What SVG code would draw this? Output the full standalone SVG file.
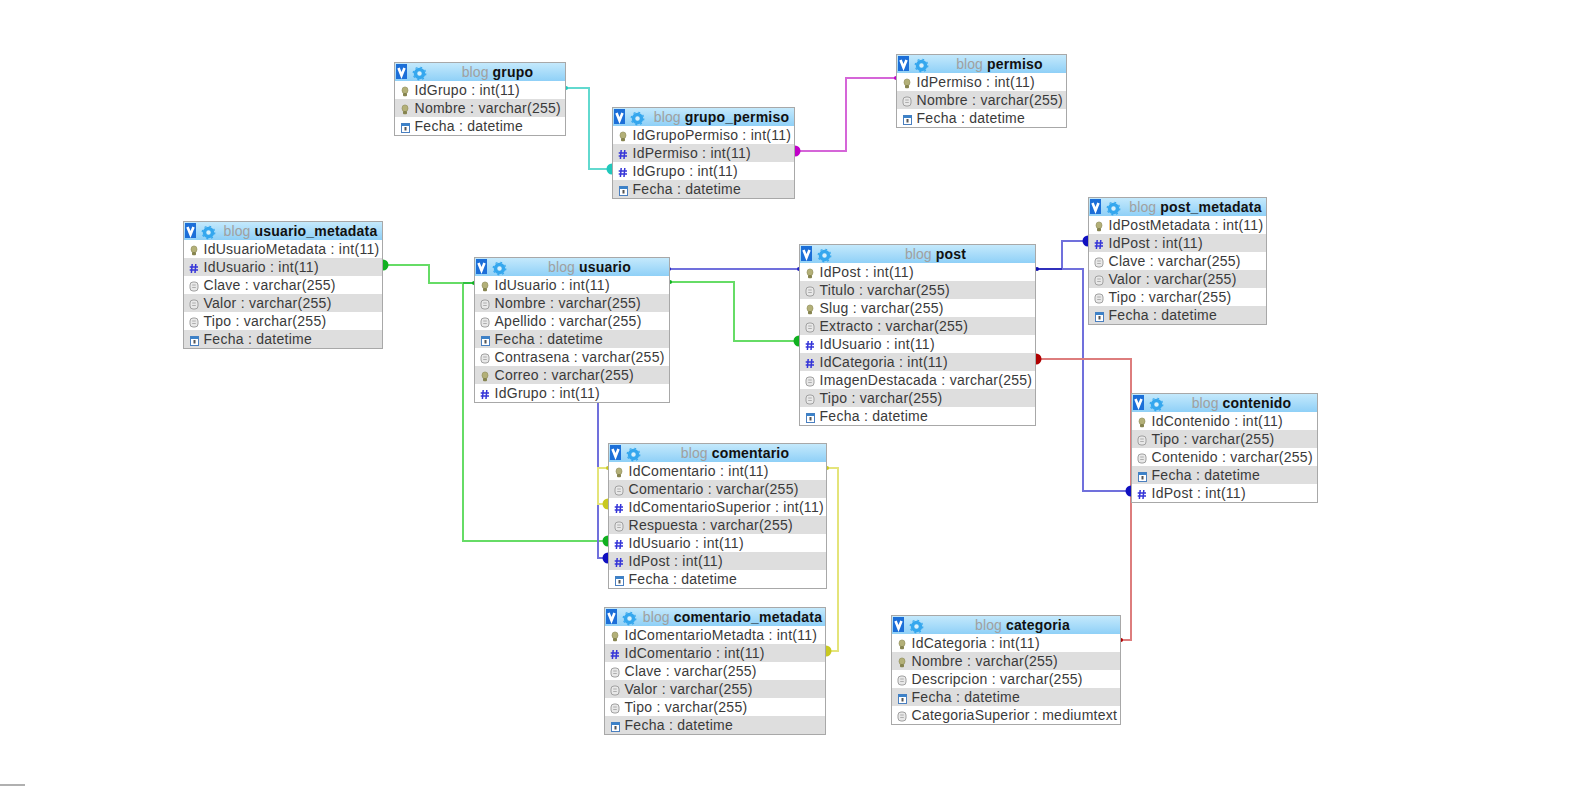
<svg xmlns="http://www.w3.org/2000/svg" width="1579" height="786" viewBox="0 0 1579 786">
<style>
.bd{fill:#fff;stroke:#a8a8a8;stroke-width:1}
.hd{fill:url(#hg)}
.sh{fill:#dedede}
text{font-family:"Liberation Sans",Arial,sans-serif;font-size:14px;fill:#3a3a3a;letter-spacing:.27px;transform:translate(-.5px,-1px)}
.t{text-anchor:middle;fill:#a0a0a0;letter-spacing:.1px;transform:translate(-.5px,0)}
.t tspan{font-weight:bold;fill:#111;letter-spacing:.2px}
.c{fill:none;stroke-width:2}
.cy{stroke:#62d9cf}.mg{stroke:#d565d8}.bl{stroke:#7070dc}.gr{stroke:#66dc66}.ol{stroke:#e4e47a}.rd{stroke:#dd7d7d}.db{stroke:#3030bc}.dg{stroke:#30c040}
</style>
<defs>
<linearGradient id="hg" x1="0" y1="0" x2="0" y2="1"><stop offset="0" stop-color="#c4e9fc"/><stop offset="1" stop-color="#8fd0f7"/></linearGradient>
<g id="k"><ellipse cx="0" cy="-1.200" rx="3" ry="3.400" fill="#b3b078" stroke="#8d8a55" stroke-width=".6"/><rect x="-2" y="1.500" width="4" height="3.200" rx="1" fill="#86844f"/></g>
<path id="h" d="M-1.800-4.500L-2.600 4.500M1.800-4.500L1 4.500M-4.300-1.600H4M-4.300 1.600H4" fill="none" stroke="#3535d8" stroke-width="1.500"/>
<g id="d"><rect x="-4" y="-4.500" width="8" height="9" rx="3" fill="#e8e8e8" stroke="#a0a0a0"/><path d="M-1.800-1.500H1.800M-1.800 1H1.800" stroke="#a0a0a0" stroke-width=".8"/></g>
<g id="f"><rect x="-3.500" y="-4" width="8" height="9" fill="#fff" stroke="#4a7fbf"/><rect x="-3.500" y="-4" width="8" height="2.500" fill="#3b82c9"/><rect x="-.5" y="-.5" width="2" height="3.500" fill="#555"/></g>
<g id="v"><rect x="2" y="2" width="11" height="15" fill="#1c6fd8"/><path d="M4.500 6L7.500 13.500L10.500 6" fill="none" stroke="#fff" stroke-width="2.600"/></g>
<g id="g"><circle cx="25.500" cy="11.500" r="4" fill="#d8f0fc" stroke="#35a7ee" stroke-width="3.500"/><circle cx="25.500" cy="11.500" r="6.300" fill="none" stroke="#35a7ee" stroke-width="1.200" stroke-dasharray="2 2.950"/></g>
<circle id="p" r="2"/>
<circle id="o" r="5.500"/>
</defs>
<rect width="1579" height="786" fill="#fff"/>
<g id="connectors">
<path class="c cy" d="M566 88H589V169H612"/>
<path class="c mg" d="M795 151H846V78H896"/>
<path class="c bl" d="M669 269H799"/>
<path class="c gr" d="M383 265H429V283H474"/>
<path class="c gr" d="M463 283V541H608"/>
<path class="c dg" d="M463 283H474"/>
<path class="c gr" d="M669 282H734V341H799"/>
<path class="c bl" d="M598 403V558H608"/>
<path class="c ol" d="M608 468H598V504H608"/>
<path class="c ol" d="M827 468H838V651H826"/>
<path class="c bl" d="M1036 269H1062V241H1088"/>
<path class="c bl" d="M1036 269H1083V491H1131"/>
<path class="c db" d="M1036 269H1062"/>
<path class="c rd" d="M1036 359H1131V640H1121"/>
<use href="#p" x="566" y="88" fill="#20c8bc"/><use href="#o" x="612" y="169" fill="#20c8bc"/>
<use href="#o" x="795" y="151" fill="#c000c8"/><use href="#p" x="896" y="78" fill="#c000c8"/>
<use href="#p" x="669" y="269" fill="#2020c0"/><use href="#p" x="799" y="269" fill="#2020c0"/>
<use href="#o" x="383" y="265" fill="#10b020"/><use href="#p" x="474" y="283" fill="#10b020"/>
<use href="#o" x="608" y="541" fill="#10b020"/><use href="#p" x="670" y="282" fill="#10b020"/><use href="#o" x="799" y="341" fill="#10b020"/>
<use href="#o" x="608" y="558" fill="#1010c0"/>
<use href="#p" x="608" y="468" fill="#c8c820"/><use href="#o" x="608" y="504" fill="#c8c820"/>
<use href="#p" x="827" y="468" fill="#c8c820"/><use href="#o" x="826" y="651" fill="#c8c820"/>
<use href="#p" x="1037" y="269" fill="#1010b0"/><use href="#o" x="1088" y="241" fill="#1010c0"/><use href="#o" x="1131" y="491" fill="#1010c0"/>
<use href="#o" x="1036" y="359" fill="#b00000"/><use href="#p" x="1121" y="640" fill="#b00000"/>
</g>
<g id="grupo" transform="translate(394,62)">
<rect class="bd" x=".5" y=".5" width="171" height="73"/><rect class="hd" x="1" y="1" width="170" height="18"/><rect class="sh" x="1" y="37" width="170" height="18"/>
<use href="#v"/><use href="#g"/><text class="t" x="104" y="14.500">blog <tspan>grupo</tspan></text>
<use href="#k" x="11" y="29.500"/><text x="21" y="33.500">IdGrupo : int(11)</text>
<use href="#k" x="11" y="47.500"/><text x="21" y="51.500">Nombre : varchar(255)</text>
<use href="#f" x="11" y="65.500"/><text x="21" y="69.500">Fecha : datetime</text>
</g>
<g id="grupo_permiso" transform="translate(612,107)">
<rect class="bd" x=".5" y=".5" width="182" height="91"/><rect class="hd" x="1" y="1" width="181" height="18"/><rect class="sh" x="1" y="37" width="181" height="18"/><rect class="sh" x="1" y="73" width="181" height="18"/>
<use href="#v"/><use href="#g"/><text class="t" x="110" y="14.500">blog <tspan>grupo_permiso</tspan></text>
<use href="#k" x="11" y="29.500"/><text x="21" y="33.500">IdGrupoPermiso : int(11)</text>
<use href="#h" x="11" y="47.500"/><text x="21" y="51.500">IdPermiso : int(11)</text>
<use href="#h" x="11" y="65.500"/><text x="21" y="69.500">IdGrupo : int(11)</text>
<use href="#f" x="11" y="83.500"/><text x="21" y="87.500">Fecha : datetime</text>
</g>
<g id="permiso" transform="translate(896,54)">
<rect class="bd" x=".5" y=".5" width="170" height="73"/><rect class="hd" x="1" y="1" width="169" height="18"/><rect class="sh" x="1" y="37" width="169" height="18"/>
<use href="#v"/><use href="#g"/><text class="t" x="104" y="14.500">blog <tspan>permiso</tspan></text>
<use href="#k" x="11" y="29.500"/><text x="21" y="33.500">IdPermiso : int(11)</text>
<use href="#d" x="11" y="47.500"/><text x="21" y="51.500">Nombre : varchar(255)</text>
<use href="#f" x="11" y="65.500"/><text x="21" y="69.500">Fecha : datetime</text>
</g>
<g id="post_metadata" transform="translate(1088,197)">
<rect class="bd" x=".5" y=".5" width="178" height="127"/><rect class="hd" x="1" y="1" width="177" height="18"/><rect class="sh" x="1" y="37" width="177" height="18"/><rect class="sh" x="1" y="73" width="177" height="18"/><rect class="sh" x="1" y="109" width="177" height="18"/>
<use href="#v"/><use href="#g"/><text class="t" x="108" y="14.500">blog <tspan>post_metadata</tspan></text>
<use href="#k" x="11" y="29.500"/><text x="21" y="33.500">IdPostMetadata : int(11)</text>
<use href="#h" x="11" y="47.500"/><text x="21" y="51.500">IdPost : int(11)</text>
<use href="#d" x="11" y="65.500"/><text x="21" y="69.500">Clave : varchar(255)</text>
<use href="#d" x="11" y="83.500"/><text x="21" y="87.500">Valor : varchar(255)</text>
<use href="#d" x="11" y="101.500"/><text x="21" y="105.500">Tipo : varchar(255)</text>
<use href="#f" x="11" y="119.500"/><text x="21" y="123.500">Fecha : datetime</text>
</g>
<g id="usuario_metadata" transform="translate(183,221)">
<rect class="bd" x=".5" y=".5" width="199" height="127"/><rect class="hd" x="1" y="1" width="198" height="18"/><rect class="sh" x="1" y="37" width="198" height="18"/><rect class="sh" x="1" y="73" width="198" height="18"/><rect class="sh" x="1" y="109" width="198" height="18"/>
<use href="#v"/><use href="#g"/><text class="t" x="118" y="14.500">blog <tspan>usuario_metadata</tspan></text>
<use href="#k" x="11" y="29.500"/><text x="21" y="33.500">IdUsuarioMetadata : int(11)</text>
<use href="#h" x="11" y="47.500"/><text x="21" y="51.500">IdUsuario : int(11)</text>
<use href="#d" x="11" y="65.500"/><text x="21" y="69.500">Clave : varchar(255)</text>
<use href="#d" x="11" y="83.500"/><text x="21" y="87.500">Valor : varchar(255)</text>
<use href="#d" x="11" y="101.500"/><text x="21" y="105.500">Tipo : varchar(255)</text>
<use href="#f" x="11" y="119.500"/><text x="21" y="123.500">Fecha : datetime</text>
</g>
<g id="usuario" transform="translate(474,257)">
<rect class="bd" x=".5" y=".5" width="195" height="145"/><rect class="hd" x="1" y="1" width="194" height="18"/><rect class="sh" x="1" y="37" width="194" height="18"/><rect class="sh" x="1" y="73" width="194" height="18"/><rect class="sh" x="1" y="109" width="194" height="18"/>
<use href="#v"/><use href="#g"/><text class="t" x="116" y="14.500">blog <tspan>usuario</tspan></text>
<use href="#k" x="11" y="29.500"/><text x="21" y="33.500">IdUsuario : int(11)</text>
<use href="#d" x="11" y="47.500"/><text x="21" y="51.500">Nombre : varchar(255)</text>
<use href="#d" x="11" y="65.500"/><text x="21" y="69.500">Apellido : varchar(255)</text>
<use href="#f" x="11" y="83.500"/><text x="21" y="87.500">Fecha : datetime</text>
<use href="#d" x="11" y="101.500"/><text x="21" y="105.500">Contrasena : varchar(255)</text>
<use href="#k" x="11" y="119.500"/><text x="21" y="123.500">Correo : varchar(255)</text>
<use href="#h" x="11" y="137.500"/><text x="21" y="141.500">IdGrupo : int(11)</text>
</g>
<g id="post" transform="translate(799,244)">
<rect class="bd" x=".5" y=".5" width="236" height="181"/><rect class="hd" x="1" y="1" width="235" height="18"/><rect class="sh" x="1" y="37" width="235" height="18"/><rect class="sh" x="1" y="73" width="235" height="18"/><rect class="sh" x="1" y="109" width="235" height="18"/><rect class="sh" x="1" y="145" width="235" height="18"/>
<use href="#v"/><use href="#g"/><text class="t" x="137" y="14.500">blog <tspan>post</tspan></text>
<use href="#k" x="11" y="29.500"/><text x="21" y="33.500">IdPost : int(11)</text>
<use href="#d" x="11" y="47.500"/><text x="21" y="51.500">Titulo : varchar(255)</text>
<use href="#k" x="11" y="65.500"/><text x="21" y="69.500">Slug : varchar(255)</text>
<use href="#d" x="11" y="83.500"/><text x="21" y="87.500">Extracto : varchar(255)</text>
<use href="#h" x="11" y="101.500"/><text x="21" y="105.500">IdUsuario : int(11)</text>
<use href="#h" x="11" y="119.500"/><text x="21" y="123.500">IdCategoria : int(11)</text>
<use href="#d" x="11" y="137.500"/><text x="21" y="141.500">ImagenDestacada : varchar(255)</text>
<use href="#d" x="11" y="155.500"/><text x="21" y="159.500">Tipo : varchar(255)</text>
<use href="#f" x="11" y="173.500"/><text x="21" y="177.500">Fecha : datetime</text>
</g>
<g id="contenido" transform="translate(1131,393)">
<rect class="bd" x=".5" y=".5" width="186" height="109"/><rect class="hd" x="1" y="1" width="185" height="18"/><rect class="sh" x="1" y="37" width="185" height="18"/><rect class="sh" x="1" y="73" width="185" height="18"/>
<use href="#v"/><use href="#g"/><text class="t" x="111" y="14.500">blog <tspan>contenido</tspan></text>
<use href="#k" x="11" y="29.500"/><text x="21" y="33.500">IdContenido : int(11)</text>
<use href="#d" x="11" y="47.500"/><text x="21" y="51.500">Tipo : varchar(255)</text>
<use href="#d" x="11" y="65.500"/><text x="21" y="69.500">Contenido : varchar(255)</text>
<use href="#f" x="11" y="83.500"/><text x="21" y="87.500">Fecha : datetime</text>
<use href="#h" x="11" y="101.500"/><text x="21" y="105.500">IdPost : int(11)</text>
</g>
<g id="comentario" transform="translate(608,443)">
<rect class="bd" x=".5" y=".5" width="218" height="145"/><rect class="hd" x="1" y="1" width="217" height="18"/><rect class="sh" x="1" y="37" width="217" height="18"/><rect class="sh" x="1" y="73" width="217" height="18"/><rect class="sh" x="1" y="109" width="217" height="18"/>
<use href="#v"/><use href="#g"/><text class="t" x="127.500" y="14.500">blog <tspan>comentario</tspan></text>
<use href="#k" x="11" y="29.500"/><text x="21" y="33.500">IdComentario : int(11)</text>
<use href="#d" x="11" y="47.500"/><text x="21" y="51.500">Comentario : varchar(255)</text>
<use href="#h" x="11" y="65.500"/><text x="21" y="69.500">IdComentarioSuperior : int(11)</text>
<use href="#d" x="11" y="83.500"/><text x="21" y="87.500">Respuesta : varchar(255)</text>
<use href="#h" x="11" y="101.500"/><text x="21" y="105.500">IdUsuario : int(11)</text>
<use href="#h" x="11" y="119.500"/><text x="21" y="123.500">IdPost : int(11)</text>
<use href="#f" x="11" y="137.500"/><text x="21" y="141.500">Fecha : datetime</text>
</g>
<g id="comentario_metadata" transform="translate(604,607)">
<rect class="bd" x=".5" y=".5" width="221" height="127"/><rect class="hd" x="1" y="1" width="220" height="18"/><rect class="sh" x="1" y="37" width="220" height="18"/><rect class="sh" x="1" y="73" width="220" height="18"/><rect class="sh" x="1" y="109" width="220" height="18"/>
<use href="#v"/><use href="#g"/><text class="t" x="129" y="14.500">blog <tspan>comentario_metadata</tspan></text>
<use href="#k" x="11" y="29.500"/><text x="21" y="33.500">IdComentarioMetadta : int(11)</text>
<use href="#h" x="11" y="47.500"/><text x="21" y="51.500">IdComentario : int(11)</text>
<use href="#d" x="11" y="65.500"/><text x="21" y="69.500">Clave : varchar(255)</text>
<use href="#d" x="11" y="83.500"/><text x="21" y="87.500">Valor : varchar(255)</text>
<use href="#d" x="11" y="101.500"/><text x="21" y="105.500">Tipo : varchar(255)</text>
<use href="#f" x="11" y="119.500"/><text x="21" y="123.500">Fecha : datetime</text>
</g>
<g id="categoria" transform="translate(891,615)">
<rect class="bd" x=".5" y=".5" width="229" height="109"/><rect class="hd" x="1" y="1" width="228" height="18"/><rect class="sh" x="1" y="37" width="228" height="18"/><rect class="sh" x="1" y="73" width="228" height="18"/>
<use href="#v"/><use href="#g"/><text class="t" x="132" y="14.500">blog <tspan>categoria</tspan></text>
<use href="#k" x="11" y="29.500"/><text x="21" y="33.500">IdCategoria : int(11)</text>
<use href="#k" x="11" y="47.500"/><text x="21" y="51.500">Nombre : varchar(255)</text>
<use href="#d" x="11" y="65.500"/><text x="21" y="69.500">Descripcion : varchar(255)</text>
<use href="#f" x="11" y="83.500"/><text x="21" y="87.500">Fecha : datetime</text>
<use href="#d" x="11" y="101.500"/><text x="21" y="105.500">CategoriaSuperior : mediumtext</text>
</g>
<rect x="0" y="784" width="25" height="2" fill="#b0b0b0"/>
</svg>
